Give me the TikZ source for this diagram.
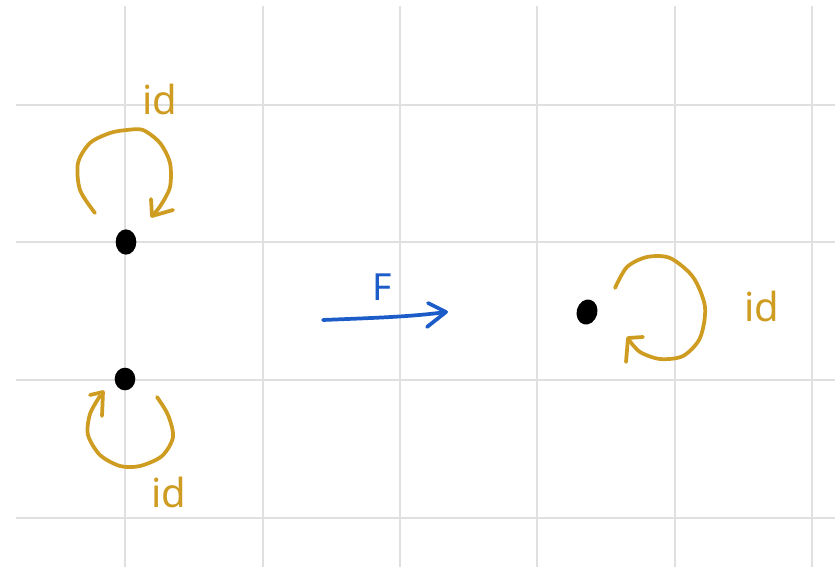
\documentclass[tikz,border=0pt]{standalone}
\usepackage{fontspec}
\setmainfont{Noto Sans}
\usetikzlibrary{shapes.geometric}
\definecolor{gold}{RGB}{207,156,34}
\definecolor{penblue}{RGB}{28,92,200}
\definecolor{gridgray}{RGB}{224,224,224}
\begin{document}
\begin{tikzpicture}[x=0.75pt,y=-0.75pt,
  gridline/.style={gridgray,line width=2.2pt},
  loopline/.style={gold,line width=2.8pt,line cap=round,line join=round},
  blueline/.style={penblue,line width=2.8pt,line cap=round,line join=round},
  dotnode/.style={fill=black,ellipse,inner sep=0pt,minimum width=15.5pt,minimum height=19pt},
  idlabel/.style={gold,font=\fontsize{30}{30}\selectfont,inner sep=0pt},
  flabel/.style={penblue,font=\fontsize{28}{28}\selectfont,inner sep=0pt}]
\useasboundingbox (0,0) rectangle (835,567);
\fill[white] (0,0) rectangle (835,567);
% grid
\foreach \gx in {125,263,400,537,675,812} \draw[gridline] (\gx,6) -- (\gx,567);
\foreach \gy in {105,242,380,518} \draw[gridline] (16,\gy) -- (835,\gy);
% dots
\node[dotnode] (a) at (126,242) {};
\node[dotnode,minimum height=17pt] (b) at (125,379) {};
\node[dotnode,rotate=-15] (c) at (587,312) {};
% top loop
\draw[loopline] plot[smooth] coordinates {(95,213) (80,190) (78,163) (90,143) (110,133) (127,130) (143,130) (160,143) (170,163) (170,187) (161,205) (153,215)};
\draw[loopline] (151,199) -- (152,216) -- (173,210);
% bottom loop
\draw[loopline] plot[smooth] coordinates {(157,397) (168,415) (173,437) (162,456) (140,466) (120,466) (100,455) (88,435) (90,414) (100,396)};
\draw[loopline] (90,395) -- (103,392) -- (102,416);
% right loop
\draw[loopline] plot[smooth] coordinates {(615,288) (627,267) (647,257) (670,258) (693,277) (705,307) (700,338) (683,356) (660,359) (640,352) (629,340)};
\draw[loopline] (643,337) -- (628,338) -- (626,362);
% blue arrow
\coordinate (fs) at (323,320);
\coordinate (fe) at (446,312);
\draw[blueline] (fs) .. controls (370,318) and (410,317) .. (fe);
\draw[blueline] (428,303) -- (fe) -- (427,327);
% labels
\node[idlabel] (l1) at (160,99) {id};
\node[idlabel] (l2) at (169,492) {id};
\node[idlabel] (l3) at (762,306) {id};
\node[flabel] (lf) at (382,287) {F};
\end{tikzpicture}
\end{document}
